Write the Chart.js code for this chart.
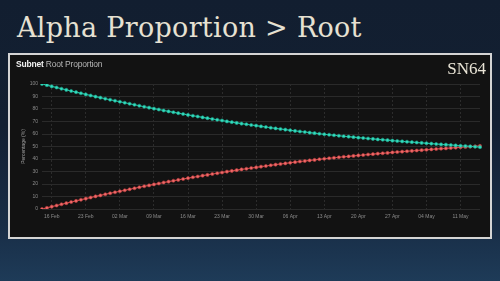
<!DOCTYPE html>
<html>
<head>
<meta charset="utf-8">
<script src="https://cdn.jsdelivr.net/npm/chart.js@4.4.1/dist/chart.umd.min.js"></script>
<style>
  html, body { margin: 0; padding: 0; }
  body {
    width: 500px; height: 281px; overflow: hidden; position: relative;
    background: linear-gradient(to bottom, #121e30 0%, #132032 45%, #182d46 80%, #1e3b58 100%);
    font-family: "Liberation Sans", Arial, sans-serif;
  }
  #titre {
    position: absolute; left: 17px; top: 14px;
    font-family: "DejaVu Serif", serif; font-size: 27px; line-height: 27px; letter-spacing: 0.3px;
    color: #e6e1d2; white-space: nowrap;
  }
  #painel {
    position: absolute; left: 8px; top: 53px; width: 480px; height: 182px;
    border: 2px solid #d4d4d4; background: #121212;
  }
  #subtitulo {
    position: absolute; left: 6px; top: 4px; font-size: 8.5px; letter-spacing: -0.2px;
    color: #b5b5b5; white-space: nowrap;
  }
  #subtitulo b { color: #f2f2f2; }
  #sn {
    position: absolute; right: 4px; top: 5px;
    font-family: "Liberation Serif", serif; font-size: 17px; line-height: 17px; color: #e9e4d6;
  }
  #grafico { position: absolute; left: 0; top: 0; }
</style>
</head>
<body>
<div id="titre">Alpha Proportion &gt; Root</div>
<div id="painel">
  <canvas id="grafico" width="480" height="182"></canvas>
  <div id="subtitulo"><b>Subnet</b> Root Proportion</div>
  <div id="sn">SN64</div>
</div>
<script>
// datas (diárias)
const datas = [
  "14 Feb", "15 Feb", "16 Feb", "17 Feb", "18 Feb", "19 Feb", "20 Feb", "21 Feb", "22 Feb", "23 Feb",
  "24 Feb", "25 Feb", "26 Feb", "27 Feb", "28 Feb",
  "01 Mar", "02 Mar", "03 Mar", "04 Mar", "05 Mar", "06 Mar", "07 Mar", "08 Mar", "09 Mar", "10 Mar",
  "11 Mar", "12 Mar", "13 Mar", "14 Mar", "15 Mar", "16 Mar", "17 Mar", "18 Mar", "19 Mar", "20 Mar",
  "21 Mar", "22 Mar", "23 Mar", "24 Mar", "25 Mar", "26 Mar", "27 Mar", "28 Mar", "29 Mar", "30 Mar", "31 Mar",
  "01 Apr", "02 Apr", "03 Apr", "04 Apr", "05 Apr", "06 Apr", "07 Apr", "08 Apr", "09 Apr", "10 Apr",
  "11 Apr", "12 Apr", "13 Apr", "14 Apr", "15 Apr", "16 Apr", "17 Apr", "18 Apr", "19 Apr", "20 Apr",
  "21 Apr", "22 Apr", "23 Apr", "24 Apr", "25 Apr", "26 Apr", "27 Apr", "28 Apr", "29 Apr", "30 Apr",
  "01 May", "02 May", "03 May", "04 May", "05 May", "06 May", "07 May", "08 May", "09 May", "10 May",
  "11 May", "12 May", "13 May", "14 May", "15 May"
];

// proporção root (verde)
const root = [
  100, 99.1, 98.1, 97.2, 96.2, 95.3,
  94.4, 93.5, 92.6, 91.7, 90.8,
  89.9, 89.1, 88.2, 87.4, 86.6,
  85.8, 85.0, 84.2, 83.4, 82.6,
  81.8, 81.1, 80.3, 79.6, 78.8,
  78.1, 77.4, 76.7, 76.0, 75.3,
  74.6, 74.0, 73.3, 72.7, 72.0,
  71.4, 70.8, 70.1, 69.5, 68.9,
  68.3, 67.8, 67.2, 66.7, 66.1,
  65.6, 65.0, 64.5, 64.0, 63.5,
  63.0, 62.5, 62.0, 61.6, 61.1,
  60.7, 60.2, 59.8, 59.4, 59.0,
  58.6, 58.2, 57.9, 57.5, 57.1,
  56.8, 56.4, 56.1, 55.7, 55.4,
  55.1, 54.7, 54.4, 54.1, 53.8,
  53.5, 53.2, 52.9, 52.6, 52.3,
  52.0, 51.7, 51.5, 51.2, 50.9,
  50.6, 50.4, 50.1, 49.8, 49.5
];

// proporção alpha (vermelho)
const alpha = [
  0, 0.9, 1.9, 2.8, 3.8, 4.7,
  5.6, 6.5, 7.4, 8.3, 9.2,
  10.1, 10.9, 11.8, 12.6, 13.4,
  14.2, 15.0, 15.8, 16.6, 17.4,
  18.2, 18.9, 19.7, 20.4, 21.2,
  21.9, 22.6, 23.3, 24.0, 24.7,
  25.4, 26.0, 26.7, 27.3, 28.0,
  28.6, 29.2, 29.9, 30.5, 31.1,
  31.7, 32.2, 32.8, 33.3, 33.9,
  34.4, 35.0, 35.5, 36.0, 36.5,
  37.0, 37.5, 38.0, 38.4, 38.9,
  39.3, 39.8, 40.2, 40.6, 41.0,
  41.4, 41.8, 42.1, 42.5, 42.9,
  43.2, 43.6, 43.9, 44.3, 44.6,
  44.9, 45.3, 45.6, 45.9, 46.2,
  46.5, 46.8, 47.1, 47.4, 47.7,
  48.0, 48.3, 48.5, 48.8, 49.1,
  49.4, 49.6, 49.9, 50.2, 50.5
];

// só estas datas aparecem no eixo
const datasEixo = ["16 Feb", "23 Feb", "02 Mar", "09 Mar", "16 Mar", "23 Mar", "30 Mar",
  "06 Apr", "13 Apr", "20 Apr", "27 Apr", "04 May", "11 May"];

const fonteMini = { family: "Liberation Sans", size: 5 };

new Chart(document.getElementById("grafico").getContext("2d"), {
  type: "line",
  data: {
    labels: datas,
    datasets: [
      {
        label: "Root",
        data: root,
        borderColor: "#27c9ad",
        backgroundColor: "#33dcbd",
        borderWidth: 1.2,
        pointRadius: 1.6,
        pointBorderWidth: 0.6,
        pointBorderColor: "#1c9f88",
        fill: false,
      },
      {
        label: "Alpha",
        data: alpha,
        borderColor: "#d94b4b",
        backgroundColor: "#ee6a6a",
        borderWidth: 1.2,
        pointRadius: 1.6,
        pointBorderWidth: 0.6,
        pointBorderColor: "#b53a3a",
        fill: false,
      },
    ],
  },
  options: {
    responsive: false,
    animation: false,
    layout: { padding: { left: 11, right: 10, top: 29, bottom: 0 } },
    plugins: { legend: { display: false }, tooltip: { enabled: false } },
    scales: {
      x: {
        grid: { color: "#2c2c2c", drawTicks: false },
        border: { display: false, dash: [2, 2] },
        ticks: {
          autoSkip: false,
          maxRotation: 0,
          padding: 5,
          color: "#8c8c8c",
          font: fonteMini,
          callback: function (valor) {
            const d = datas[valor];
            return datasEixo.includes(d) ? d : null;
          },
        },
        afterFit: (escala) => { escala.height = 28; },
      },
      y: {
        min: 0,
        max: 100,
        grid: { color: "#2a2a2a", drawTicks: false },
        border: { display: false },
        ticks: { stepSize: 10, padding: 4, color: "#8c8c8c", font: fonteMini },
        title: { display: true, text: "Percentage (%)", color: "#a0a0a0", font: fonteMini, padding: 0 },
        afterFit: (escala) => { escala.width = 21; },
      },
    },
  },
});
</script>
</body>
</html>
